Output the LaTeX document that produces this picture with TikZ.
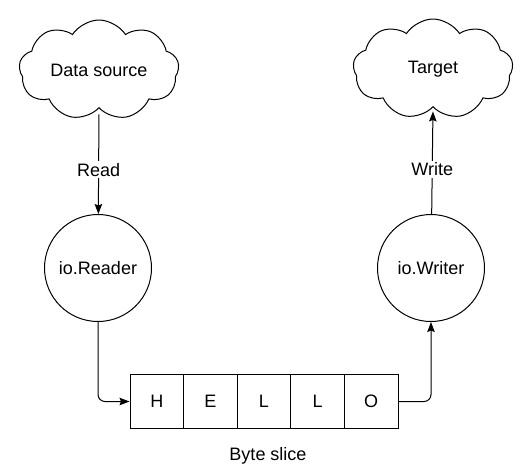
\documentclass[tikz,border=0pt]{standalone}
\usepackage{fontspec}
\setmainfont{Liberation Sans}
\usetikzlibrary{arrows.meta,shapes.symbols}

\begin{document}
\begin{tikzpicture}[x=1pt,y=-1pt,>={Stealth[length=10pt,width=7.5pt,inset=1.5pt]},
                    line width=1pt,font=\fontsize{18}{21}\selectfont,
                    store/.style={cloud,draw,cloud puffs=9,cloud puff arc=115,cloud ignores aspect,
                                  minimum width=160pt,minimum height=100pt,inner sep=0pt},
                    io node/.style={circle,draw,minimum size=107pt,inner sep=0pt},
                    cell/.style={rectangle,draw,minimum size=53.6pt,inner sep=0pt}]
  \useasboundingbox (0,0) rectangle (532,475);
  \node[store] (source) at (99,70) {Data source};
  \node[store] (target) at (433,69) {Target};
  \node[io node] (reader) at (98,268) {io.Reader};
  \node[io node] (writer) at (431,268) {io.Writer};
  \foreach \ch [count=\i] in {H,E,L,L,O}
    \node[cell] (c\i) at ({130+53.6*(\i-0.5)},401.5) {\ch};
  \node (slice) at (268,456) {Byte slice};
  \path[every node/.style={fill=white,inner sep=2pt}]
    (source.south) edge [->,shorten <=6pt] node [pos=0.58] {Read} (reader)
    (writer) edge [->,shorten >=4pt] node [pos=0.42] {Write} (target.south);
  \draw[->,rounded corners=7pt] (reader) |- (c1);
  \draw[->,rounded corners=7pt] (c5) -| (writer);
\end{tikzpicture}
\end{document}
